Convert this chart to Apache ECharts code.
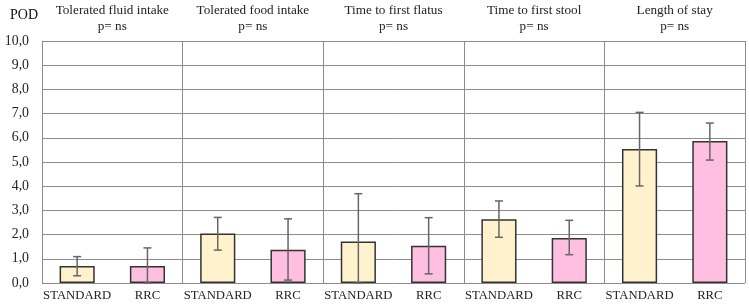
<!DOCTYPE html>
<html><head><meta charset="utf-8">
<script src="https://cdn.jsdelivr.net/npm/echarts@6/dist/echarts.min.js"></script>
<style>html,body{margin:0;padding:0;background:#fff}#c{width:749px;height:306px}</style>
</head><body><div id="c"></div>
<script>
var groups = ['Tolerated fluid intake','Tolerated food intake','Time to first flatus','Time to first stool','Length of stay'];
var pLabels = ['p= ns','p= ns','p= ns','p= ns','p= ns'];
var categories = ['STANDARD','RRC','STANDARD','RRC','STANDARD','RRC','STANDARD','RRC','STANDARD','RRC'];
var means =   [0.70, 0.70, 2.05, 1.37, 1.71, 1.54, 2.63, 1.86, 5.54, 5.87];
var errLow =  [0.30, 0.00, 1.36, 0.12, 0.00, 0.38, 1.89, 1.17, 4.01, 5.08];
var errHigh = [1.09, 1.45, 2.71, 2.65, 3.69, 2.70, 3.39, 2.59, 7.05, 6.61];
var yTicks = [0,1,2,3,4,5,6,7,8,9,10];

var colorStd = '#FFF2CC', colorRrc = '#FFBFE0';
var font = '"Liberation Serif","Times New Roman",serif';

var chart = echarts.init(document.getElementById('c'));
chart.setOption({
  animation:false,
  title:{text:'POD', left:5, top:3, textStyle:{fontFamily:font, fontSize:14, fontWeight:'normal', color:'#111'}},
  grid:{left:42, right:4, top:41, bottom:23},
  xAxis:[{
    type:'category', data:categories, position:'bottom',
    axisLine:{show:false}, axisTick:{show:false},
    axisLabel:{fontFamily:font, fontSize:12.7, lineHeight:14, color:'#222', margin:6, interval:0}
  },{
    type:'category', data:groups, position:'top',
    axisLine:{show:false}, axisTick:{show:false},
    splitLine:{show:true, interval:0, lineStyle:{color:'#8c8c8c', width:1}},
    axisLabel:{interval:0, margin:6, fontFamily:font, fontSize:13.2, color:'#222', lineHeight:16,
      formatter:function(v, i){return v + '\n' + pLabels[i];}}
  }],
  yAxis:{
    type:'value', min:yTicks[0], max:yTicks[yTicks.length-1], interval:1,
    axisLine:{show:true, lineStyle:{color:'#8c8c8c'}}, axisTick:{show:false},
    splitLine:{lineStyle:{color:'#8c8c8c', width:1}},
    axisLabel:{fontFamily:font, fontSize:13.8, color:'#222', margin:13,
      formatter:function(v){return v.toFixed(1).replace('.', ',');}}
  },
  series:[{
    type:'bar', xAxisIndex:0, barWidth:'50%',
    data: means.map(function(v,i){return {value:v, itemStyle:{color: i%2===0?colorStd:colorRrc}};}),
    itemStyle:{borderColor:'#333', borderWidth:1.5}
  },{
    type:'custom', xAxisIndex:0, z:10,
    data: means.map(function(v,i){return [i, errLow[i], errHigh[i]];}),
    renderItem:function(params, api){
      var x = api.value(0);
      var lo = api.coord([x, api.value(1)]);
      var hi = api.coord([x, api.value(2)]);
      var w = 4;
      var st = {stroke:'#666', lineWidth:1.5};
      return {type:'group', children:[
        {type:'line', shape:{x1:lo[0],y1:lo[1],x2:hi[0],y2:hi[1]}, style:st},
        {type:'line', shape:{x1:lo[0]-w,y1:lo[1],x2:lo[0]+w,y2:lo[1]}, style:st},
        {type:'line', shape:{x1:hi[0]-w,y1:hi[1],x2:hi[0]+w,y2:hi[1]}, style:st}
      ]};
    }
  }]
});
</script></body></html>
